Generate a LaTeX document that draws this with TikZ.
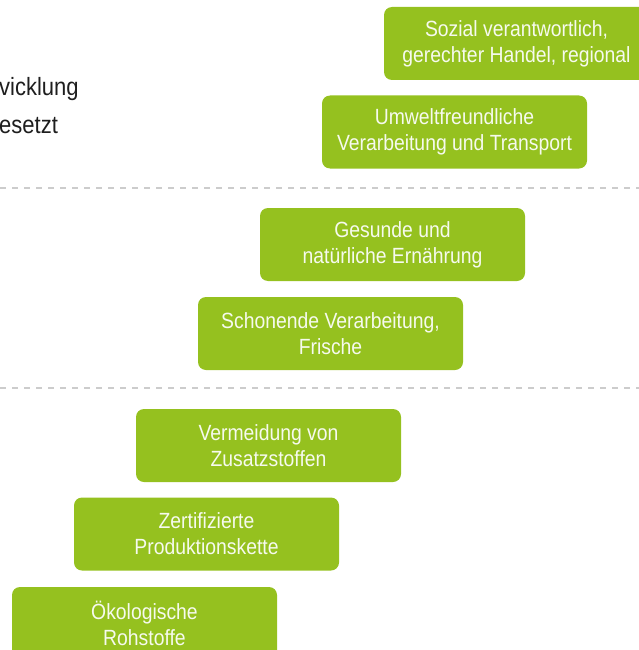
\documentclass[tikz,border=0pt]{standalone}
\usepackage{fontspec}
\setmainfont[FakeStretch=0.88]{Liberation Sans}
\definecolor{boxgreen}{HTML}{95C11F}
\definecolor{sepgray}{HTML}{CCCCCC}
\definecolor{textdark}{HTML}{1E1E1E}
\definecolor{boxtext}{HTML}{F6FAEE}
\begin{document}
\begin{tikzpicture}[x=1pt,y=-1pt,
  stepbox/.style={fill=boxgreen, rounded corners=8pt, minimum width=265pt,
    minimum height=73pt, inner sep=0pt, text=boxtext, align=center,
    font=\fontsize{22}{26}\selectfont},
  sepline/.style={draw=sepgray, line width=1.5pt, dash pattern=on 6pt off 6pt},
  lefttext/.style={anchor=base west, inner sep=0pt, text=textdark,
    font=\fontsize{25}{28}\selectfont}]
\useasboundingbox (0,0) rectangle (639,650);
\clip (0,0) rectangle (639,650);
% left text (cut at the picture edge)
\node[lefttext] (t1) at (-1,96) {vicklung};
\node[lefttext] (t2) at (-1,133) {esetzt};
% separators
\coordinate (s1l) at (0,188);
\coordinate (s1r) at (639,188);
\coordinate (s2l) at (0,388);
\coordinate (s2r) at (639,388);
\draw[sepline] (s1l) -- (s1r);
\draw[sepline] (s2l) -- (s2r);
% boxes
\node[stepbox] (b1) at (516.5,43.5) {Sozial verantwortlich,\\gerechter Handel, regional};
\node[stepbox] (b2) at (454.5,132) {Umweltfreundliche\\Verarbeitung und Transport};
\node[stepbox] (b3) at (392.5,244.5) {Gesunde und\\natürliche Ernährung};
\node[stepbox] (b4) at (330.5,333.5) {Schonende Verarbeitung,\\Frische};
\node[stepbox] (b5) at (268.5,445.5) {Vermeidung von\\Zusatzstoffen};
\node[stepbox] (b6) at (206.5,534) {Zertifizierte\\Produktionskette};
\node[stepbox] (b7) at (144.5,623.5) {Ökologische\\Rohstoffe};
\end{tikzpicture}
\end{document}
